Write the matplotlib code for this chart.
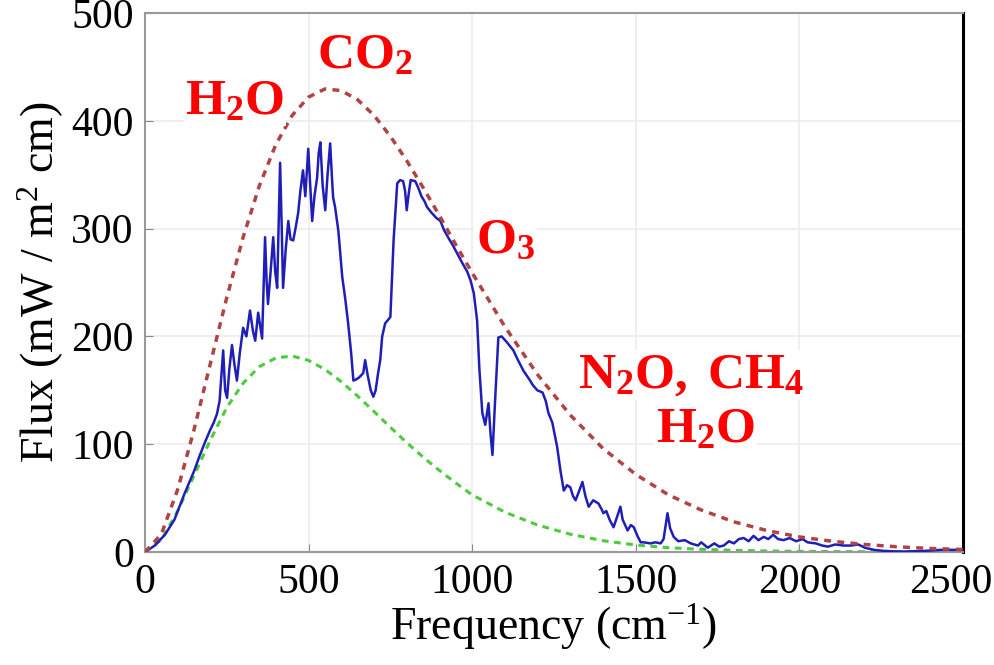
import numpy as np
import matplotlib
matplotlib.use('Agg')
import matplotlib.pyplot as plt
import matplotlib.transforms as mtransforms

plt.rcParams['font.family'] = 'Liberation Serif'
plt.rcParams['mathtext.fontset'] = 'custom'
plt.rcParams['mathtext.rm'] = 'Liberation Serif'
plt.rcParams['mathtext.bf'] = 'Liberation Serif:bold'
plt.rcParams['mathtext.it'] = 'Liberation Serif:italic'

# measured spectrum (blue)
freq = [0, 30, 61, 90, 122, 150, 168, 185, 199, 210, 220, 228, 239, 245, 251, 258, 266, 273, 281, 290,
        300, 310, 321, 330, 337, 346, 352, 358, 367, 372, 376, 384, 392, 398, 404, 413, 418, 422, 430, 438,
        445, 453, 460, 468, 475, 483, 490, 499, 505, 511, 518, 526, 531, 536, 543, 551, 558, 566, 571, 575,
        581, 591, 603, 612, 621, 630, 637, 645, 655, 667, 673, 680, 690, 698, 705, 712, 719, 725, 734, 742,
        750, 760, 771, 780, 789, 795, 800, 805, 812, 826, 835, 845, 855, 862, 875, 890, 903, 915, 930, 940,
        954, 970, 985, 995, 1005, 1015, 1022, 1031, 1040, 1050, 1056, 1062, 1070, 1080, 1090, 1105, 1126, 1140, 1157, 1175,
        1185, 1199, 1215, 1225, 1233, 1245, 1260, 1270, 1280, 1290, 1300, 1308, 1316, 1325, 1337, 1346, 1356, 1370, 1386, 1395,
        1401, 1410, 1420, 1432, 1440, 1453, 1460, 1475, 1485, 1494, 1505, 1515, 1524, 1545, 1560, 1576, 1585, 1597, 1605, 1616,
        1630, 1650, 1668, 1690, 1700, 1720, 1740, 1755, 1769, 1785, 1800, 1815, 1830, 1845, 1860, 1875, 1891, 1905, 1920, 1935,
        1952, 1970, 1990, 2010, 2025, 2050, 2070, 2087, 2110, 2135, 2157, 2180, 2200, 2228, 2260, 2300, 2330, 2380, 2433, 2500]
flux = [0, 6, 16, 30, 55, 75, 90, 103, 113, 120, 128, 140, 187, 150, 143, 170, 192, 175, 159, 185,
        208, 200, 224, 205, 196, 222, 210, 198, 292, 250, 230, 260, 292, 260, 245, 361, 300, 245, 280, 307,
        290, 289, 300, 314, 335, 354, 330, 374, 340, 307, 330, 347, 370, 380, 340, 317, 350, 379, 350, 329,
        320, 298, 255, 235, 212, 185, 159, 160, 162, 166, 178, 165, 150, 144, 150, 165, 178, 200, 212, 215,
        218, 290, 342, 345, 344, 335, 317, 330, 345, 344, 338, 330, 325, 320, 315, 310, 307, 298, 290, 285,
        277, 268, 260, 252, 240, 215, 170, 129, 118, 138, 110, 90, 140, 199, 200, 195, 187, 178, 168, 160,
        155, 150, 148, 140, 129, 120, 97, 75, 57, 62, 60, 52, 48, 55, 65, 52, 42, 48, 45, 40,
        36, 38, 30, 23, 30, 42, 30, 20, 25, 23, 15, 9, 9, 8, 9, 8, 12, 36, 22, 14,
        10, 11, 8, 6, 9, 4, 8, 5, 6, 10, 8, 12, 13, 10, 15, 11, 14, 12, 16, 12,
        11, 13, 10, 12, 9, 8, 6, 5, 7, 6, 6, 7, 4, 2, 1, 0.5, 0.5, 1, 2, 2]

# upper envelope (red dashed) and lower curve (green dashed)
env_freq = [0, 50, 100, 150, 200, 250, 300, 350, 400, 450, 500, 550, 600, 650, 700, 750, 800, 850, 900, 950,
            1000, 1100, 1200, 1300, 1400, 1500, 1600, 1700, 1800, 1900, 2000, 2100, 2200, 2300, 2400, 2500]
red_flux = [0, 16.5, 58, 113.5, 175, 236, 292, 340, 378, 405, 422, 429.5, 428, 419.5, 405, 385.6, 363, 338, 312, 285,
            259, 209, 164.5, 127, 96, 72, 53, 39, 28, 20, 14, 10, 7, 4.8, 3.3, 2.3]
green_flux = [0, 11.3, 38, 71, 104, 134, 156.6, 172, 180, 181.8, 177.7, 169.4, 158, 144.6, 130.3, 115.7, 101.5, 88, 75.6, 64,
              53, 37, 25, 16.5, 10.5, 6.5, 4, 2.5, 1.6, 1, 0.6, 0.4, 0.3, 0.2, 0.1, 0.1]

fig = plt.figure(figsize=(9.95, 6.65), dpi=100)
ax = fig.add_axes([0.1457, 0.1699, 0.8221, 0.8106])

ax.plot(env_freq, green_flux, color='#4ccc3c', lw=2.2, linestyle=(0, (2.2, 1.8)), zorder=2)
ax.plot(freq, flux, color='#1f1fb8', lw=1.8, zorder=3)
ax.plot(env_freq, red_flux, color='#b04444', lw=2.5, linestyle=(0, (2.0, 1.8)), zorder=4)

ax.set_xlim(0, 2500)
ax.set_ylim(0, 500)
ax.set_xticks([0, 500, 1000, 1500, 2000, 2500])
ax.set_yticks([0, 100, 200, 300, 400, 500])
ax.grid(True, color='#ececec', lw=1.2)
ax.set_axisbelow(True)
ax.tick_params(direction='in', length=6, color='#888888', labelsize=30, pad=8)
for s in ['left', 'top', 'bottom']:
    ax.spines[s].set_color('#999999')
    ax.spines[s].set_linewidth(1.5)
ax.spines['right'].set_color('black')
ax.spines['right'].set_linewidth(2.2)

# last x label sits against the right edge
lbl = ax.get_xticklabels()[-1]
lbl.set_transform(lbl.get_transform() + mtransforms.ScaledTranslation(-12 / 100, 0, fig.dpi_scale_trans))

ax.set_xlabel('Frequency (cm$^{-1}$)', fontsize=33, labelpad=0)
ax.set_ylabel('Flux (mW / m$^2$ cm)', fontsize=33, labelpad=4)

box = dict(facecolor='white', edgecolor='none', pad=1)
red = '#ff0000'
ax.text(275, 418, r'$\mathbf{H_2O}$', color=red, fontsize=37, ha='center', va='center', bbox=box, zorder=5)
ax.text(673, 460, r'$\mathbf{CO_2}$', color=red, fontsize=37, ha='center', va='center', bbox=box, zorder=5)
ax.text(1102, 289, r'$\mathbf{O_3}$', color=red, fontsize=37, ha='center', va='center', bbox=box, zorder=5)
ax.text(1670, 164, r'$\mathbf{N_2O,\ CH_4}$', color=red, fontsize=37, ha='center', va='center', bbox=box, zorder=5)
ax.text(1714, 113, r'$\mathbf{H_2O}$', color=red, fontsize=37, ha='center', va='center', bbox=box, zorder=5)

fig.savefig('out.png', dpi=100)
